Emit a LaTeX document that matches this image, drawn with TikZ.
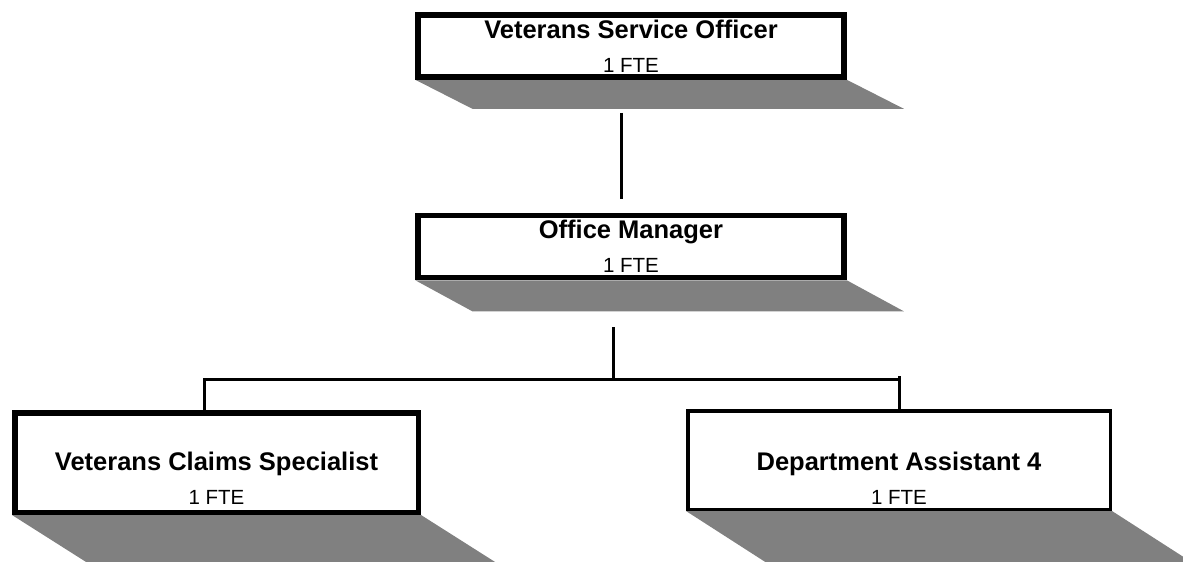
\documentclass[tikz,border=0pt]{standalone}
\usepackage{fontspec}
\setmainfont{Liberation Sans}
\usetikzlibrary{backgrounds}

% grey slab under a box
\newcommand{\castshadow}[3]{\fill[shade] (#1.south west) -- (#1.south east) -- ([shift={(#2,#3)}]#1.south east) -- ([shift={(#2,#3)}]#1.south west) -- cycle;}
% title line, #1 = room kept above its baseline
\newcommand{\posttitle}[2]{\rule{0pt}{#1}\smash{\fontsize{25.5}{34}\selectfont\bfseries #2}}

\begin{document}
\begin{tikzpicture}[x=1pt, y=-1pt]
  \tikzset{post/.style={draw, line width=5.5pt, fill=white, inner sep=0pt, align=center, font=\fontsize{20.5}{34}\selectfont},
    wide/.style={minimum width=426pt, minimum height=62pt},
    shade/.style={fill=black!50},
    link/.style={line width=3pt}}
  \useasboundingbox (0,0) rectangle (1183,562);
  \clip (0,0) rectangle (1183,562);

  \node[post, wide] (vso) at (631,46) {\posttitle{18pt}{Veterans Service Officer}\\1 FTE};
  \node[post, wide] (om) at (631,246.5) {\posttitle{18pt}{Office Manager}\\1 FTE};
  \node[post, minimum width=403.5pt, minimum height=99.5pt] (vcs) at (216.5,462.5) {\posttitle{49pt}{Veterans Claims Specialist}\\1 FTE};
  \node[post, line width=3.5pt, minimum width=422.5pt, minimum height=98.5pt] (da4) at (899,460) {\posttitle{54pt}{Department Assistant 4}\\1 FTE};

  \begin{scope}[on background layer]
    \clip (0,0) rectangle (1183,562);
    \castshadow{vso}{57}{29}
    \castshadow{om}{57}{31}
    \castshadow{vcs}{82}{52}
    \castshadow{da4}{84}{54}
  \end{scope}

  \draw[link] ([xshift=-10pt, yshift=-33pt]vso.south) -- ([xshift=-10pt, yshift=14pt]om.north);
  \draw[link] ([xshift=-18pt, yshift=-47pt]om.south) -- ++(0,52) coordinate (hub);
  \draw[link] ([xshift=-12.5pt]vcs.north) |- (hub) -- (hub -| da4.north);
  \draw[link] (da4.north) -- ([yshift=3pt]da4.north |- hub);
\end{tikzpicture}
\end{document}
